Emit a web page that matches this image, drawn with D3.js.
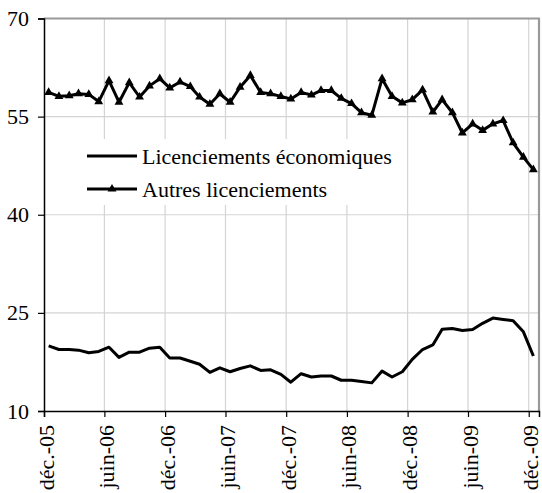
<!DOCTYPE html>
<html>
<head>
<meta charset="utf-8">
<script src="https://cdn.jsdelivr.net/npm/d3@7"></script>
</head>
<body style="margin:0">
<svg id="chart" width="542" height="493"></svg>
<script>
// monthly series, déc.-05 .. déc.-09
var startMonth = new Date(2005, 11, 1);
var endMonth = new Date(2010, 0, 1);
var months = d3.timeMonth.range(startMonth, endMonth);

var seriesNames = ["Licenciements économiques", "Autres licenciements"];

var economiques = [19.95, 19.4, 19.4, 19.3, 18.9, 19.1, 19.75, 18.2, 19.0, 19.0,
                   19.6, 19.75, 18.1, 18.1, 17.6, 17.15, 15.9, 16.6, 16.0, 16.5,
                   16.9, 16.2, 16.3, 15.6, 14.4, 15.7, 15.2, 15.35, 15.35, 14.7,
                   14.7, 14.5, 14.3, 16.1, 15.2, 16.0, 17.9, 19.4, 20.1, 22.5,
                   22.6, 22.3, 22.45, 23.4, 24.2, 24.0, 23.8, 22.1, 18.4];

var autres = [58.7, 58.1, 58.2, 58.5, 58.4, 57.3, 60.5, 57.2, 60.2, 58.0,
              59.7, 60.8, 59.4, 60.3, 59.6, 58.0, 56.9, 58.5, 57.2, 59.5,
              61.3, 58.7, 58.5, 58.1, 57.7, 58.7, 58.3, 59.0, 59.0, 57.8,
              57.0, 55.6, 55.2, 60.8, 58.1, 57.1, 57.6, 59.1, 55.7, 57.6,
              55.6, 52.5, 53.9, 52.9, 53.9, 54.4, 51.0, 48.8, 46.9];

var yTicks = [10, 25, 40, 55, 70];
var xTickLabels = ["déc.-05", "juin-06", "déc.-06", "juin-07", "déc.-07",
                   "juin-08", "déc.-08", "juin-09", "déc.-09"];

var svg = d3.select("#chart")
    .style("font-family", "'Liberation Serif'");

var x = d3.scaleTime()
    .domain([startMonth, endMonth])
    .range([44, 539]);

var y = d3.scaleLinear()
    .domain([10, 70])
    .range([411, 18.5]);

// points sit in the middle of each month
function mid(d) { return d3.timeDay.offset(d, 14); }

// one tick every 6 months from déc.-05
var xTicks = xTickLabels.map(function(d, i){ return d3.timeMonth.offset(startMonth, 6 * i) });

// gridlines
svg.append("g")
  .selectAll("line")
  .data(yTicks.slice(1, -1))
  .enter().append("line")
    .attr("x1", 44).attr("x2", 539)
    .attr("y1", function(d){ return y(d) })
    .attr("y2", function(d){ return y(d) })
    .attr("stroke", "#d4d4d4").attr("stroke-width", 1.2);

svg.append("g")
  .selectAll("line")
  .data(xTicks.slice(1))
  .enter().append("line")
    .attr("x1", function(d){ return x(d) })
    .attr("x2", function(d){ return x(d) })
    .attr("y1", y(70)).attr("y2", y(10))
    .attr("stroke", "#d4d4d4").attr("stroke-width", 1.2);

// frame top/right
svg.append("path")
    .attr("d", "M44," + y(70) + "H539V" + y(10))
    .attr("fill", "none")
    .attr("stroke", "#999")
    .attr("stroke-width", 2.2);

// legend background (hides gridlines)
var legend = svg.append("g");
legend.append("rect")
    .attr("x", 84).attr("y", 139)
    .attr("width", 304).attr("height", 66)
    .attr("fill", "#fff");

// y axis
var yAxis = svg.append("g")
    .attr("transform", "translate(44,0)")
    .call(d3.axisLeft(y).tickValues(yTicks).tickSize(6).tickPadding(9))
    .attr("font-family", null)
    .attr("font-size", null);
yAxis.select(".domain").attr("stroke", "#000").attr("stroke-width", 1.5);
yAxis.selectAll(".tick line").attr("stroke", "#000").attr("stroke-width", 1.2);
yAxis.selectAll("text")
    .attr("font-size", 22)
    .attr("fill", "#000");

// x axis
var xAxis = svg.append("g")
    .attr("transform", "translate(0," + y(10) + ")")
    .call(d3.axisBottom(x).tickValues(xTicks).tickSize(6)
      .tickFormat(function(d, i){ return xTickLabels[i] }))
    .attr("font-family", null)
    .attr("font-size", null);
xAxis.select(".domain").attr("stroke", "#000").attr("stroke-width", 1.5);
xAxis.selectAll(".tick line").attr("stroke", "#000").attr("stroke-width", 1.2);
xAxis.selectAll("text")
    .attr("font-size", 22)
    .attr("fill", "#000")
    .attr("text-anchor", "end")
    .attr("transform", "translate(2,14) rotate(-90)")
    .attr("x", 0).attr("y", 0)
    .attr("dy", "0.32em");

// series
var line = d3.line()
    .x(function(d, i){ return x(mid(months[i])) })
    .y(function(d){ return y(d) });

svg.append("path")
    .datum(economiques)
    .attr("d", line)
    .attr("fill", "none")
    .attr("stroke", "#000")
    .attr("stroke-width", 3)
    .attr("stroke-linejoin", "round");

svg.append("path")
    .datum(autres)
    .attr("d", line)
    .attr("fill", "none")
    .attr("stroke", "#000")
    .attr("stroke-width", 3)
    .attr("stroke-linejoin", "round");

var triangle = d3.symbol().type(d3.symbolTriangle).size(34);

svg.append("g")
  .selectAll("path")
  .data(autres)
  .enter().append("path")
    .attr("d", triangle)
    .attr("transform", function(d, i){
      return "translate(" + x(mid(months[i])) + "," + y(d) + ")" })
    .attr("fill", "#000");

// legend entries
var rows = legend.selectAll("g.row")
  .data(seriesNames)
  .enter().append("g")
    .attr("class", "row")
    .attr("transform", function(d, i){ return "translate(87," + (156 + i * 33) + ")" });

rows.append("line")
    .attr("x1", 0).attr("x2", 50)
    .attr("stroke", "#000").attr("stroke-width", 3);

rows.filter(function(d, i){ return i == 1 })
  .append("path")
    .attr("d", triangle)
    .attr("transform", "translate(25,0)")
    .attr("fill", "#000");

rows.append("text")
    .attr("x", 55)
    .attr("dy", "0.35em")
    .attr("font-size", 22)
    .attr("fill", "#000")
    .text(function(d){ return d });
</script>
</body>
</html>
